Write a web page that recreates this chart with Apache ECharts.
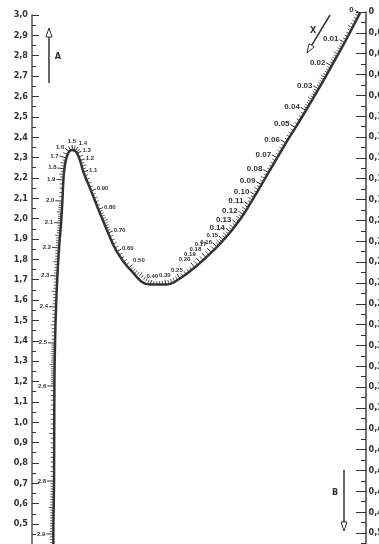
<!DOCTYPE html>
<html><head><meta charset="utf-8">
<script src="https://cdn.jsdelivr.net/npm/echarts@6/dist/echarts.min.js"></script>
<style>html,body{margin:0;padding:0;background:#fff}#c{width:379px;height:544px}</style>
</head><body><div id="c"></div>
<script>
// Left scale A (values 0.5 … 3.0), right scale B (0 … 0.5)
const scaleAMin = 0.5, scaleAMax = 3.0, scaleAStep = 0.1;
const scaleBMin = 0, scaleBMax = 0.5, scaleBStep = 0.02;

// Curved scale X: label, horizontal position (% of span A→B), height read on scale A
const xLabels = ['0','0.01','0.02','0.03','0.04','0.05','0.06','0.07','0.08','0.09','0.10','0.11','0.12','0.13','0.14','0.15','0.16','0.17','0.18','0.19','0.20','0.25','0.30','0.40','0.50','0.60','0.70','0.80','0.90','1.1','1.2','1.3','1.4','1.5','1.6','1.7','1.8','1.9','2.0','2.1','2.2','2.3','2.4','2.5','2.6','2.8','2.9','3.0'];
const xCurveH = [98.2,93.6,89.7,85.8,82.0,78.9,76.0,73.4,70.8,68.7,66.9,65.1,63.3,61.4,59.4,57.3,55.4,53.7,52.1,50.4,48.7,44.3,40.1,35.3,29.0,25.4,22.8,19.9,17.7,15.4,14.4,13.5,12.9,12.1,11.1,10.3,9.7,9.4,9.1,8.7,8.1,7.6,7.2,6.9,6.7,6.6,6.4,6.4];
const xCurveA = [3.010,2.865,2.750,2.637,2.531,2.447,2.371,2.298,2.226,2.167,2.116,2.067,2.020,1.976,1.934,1.895,1.861,1.834,1.809,1.784,1.760,1.706,1.676,1.676,1.757,1.838,1.929,2.045,2.136,2.229,2.285,2.320,2.332,2.337,2.330,2.298,2.244,2.190,2.086,1.978,1.856,1.718,1.566,1.389,1.178,0.711,0.451,0.176];

const N = xLabels.length;
const FONT = '"Liberation Sans Narrow","DejaVu Sans Condensed",sans-serif';
const FONT_X = '"Liberation Sans",Arial,sans-serif';
const INK = '#333';

const chart = echarts.init(document.getElementById('c'), null, {renderer: 'canvas'});

function P(api, k) { return api.coord([xCurveH[k], xCurveA[k]]); }
function dirAt(api, k) {
  const a = P(api, Math.max(0, k - 1)), b = P(api, Math.min(N - 1, k + 1));
  const dx = b[0] - a[0], dy = b[1] - a[1];
  const l = Math.hypot(dx, dy) || 1;
  return [dx / l, dy / l];
}
function nrm(d) { return [-d[1], d[0]]; }

function renderTicks(params, api) {
  const k = params.dataIndex;
  const p = P(api, k);
  const n = nrm(dirAt(api, k));
  const ch = [];
  const L = k <= 20 ? 6 : (k <= 34 ? 5 : 7);
  ch.push({type: 'line', shape: {x1: p[0], y1: p[1], x2: p[0] + n[0] * L, y2: p[1] + n[1] * L},
    style: {stroke: INK, lineWidth: 1}});
  const big = k <= 14;
  const align = n[0] < -0.55 ? 'right' : (n[0] > 0.55 ? 'left' : 'center');
  const valign = n[1] < -0.7 ? 'bottom' : (n[1] > 0.7 ? 'top' : 'middle');
  ch.push({type: 'text', x: p[0] + n[0] * (L + 1), y: p[1] + n[1] * (L + 1),
    style: {text: xLabels[k], fill: INK, font: 'bold ' + (big ? 8 : 6) + 'px ' + FONT_X,
      align: align, verticalAlign: valign}});
  if (k < N - 1) {
    const q = P(api, k + 1);
    const n2 = nrm(dirAt(api, k + 1));
    const len = Math.hypot(q[0] - p[0], q[1] - p[1]);
    const opts = [2, 4, 5, 10, 20];
    let sub = 2;
    opts.forEach(o => { if (Math.abs(len / o - 3.2) < Math.abs(len / sub - 3.2)) sub = o; });
    for (let j = 1; j < sub; j++) {
      const t = j / sub;
      const x = p[0] + (q[0] - p[0]) * t, y = p[1] + (q[1] - p[1]) * t;
      let nx = n[0] * (1 - t) + n2[0] * t, ny = n[1] * (1 - t) + n2[1] * t;
      const nl = Math.hypot(nx, ny) || 1; nx /= nl; ny /= nl;
      const l = (sub % 2 === 0 && j === sub / 2) ? 5 : 3.5;
      ch.push({type: 'line', shape: {x1: x, y1: y, x2: x + nx * l, y2: y + ny * l},
        style: {stroke: INK, lineWidth: 0.8}});
    }
  }
  return {type: 'group', children: ch};
}

const curveData = xLabels.map((_, i) => [xCurveH[i], xCurveA[i]]);

function arrow(x1, y1, x2, y2) {
  const dx = x2 - x1, dy = y2 - y1, l = Math.hypot(dx, dy);
  const ux = dx / l, uy = dy / l;
  const hl = 9, hw = 3;
  const bx = x2 - ux * hl, by = y2 - uy * hl;
  return [
    {type: 'line', shape: {x1: x1, y1: y1, x2: bx, y2: by}, style: {stroke: INK, lineWidth: 1.5}},
    {type: 'polygon', shape: {points: [[x2, y2], [bx - uy * hw, by + ux * hw], [bx + uy * hw, by - ux * hw]]},
      style: {fill: '#fff', stroke: INK, lineWidth: 1}}
  ];
}
const letter = (t, x, y) => ({type: 'text', x: x, y: y,
  style: {text: t, fill: INK, font: 'bold 9px ' + FONT, align: 'center', verticalAlign: 'middle'}});

chart.setOption({
  animation: false,
  backgroundColor: '#fff',
  grid: [
    {left: 32, right: 13, top: 15, bottom: 544 - 15 - 203.6 * scaleAMax, outerBoundsMode: 'none', containLabel: false},
    {left: 32, right: 13, top: 12, bottom: 544 - 12 - 1042 * (scaleBMax + scaleBStep), outerBoundsMode: 'none', containLabel: false}
  ],
  xAxis: [
    {gridIndex: 0, type: 'value', min: 0, max: 100, show: false},
    {gridIndex: 1, type: 'value', min: 0, max: 100, show: false}
  ],
  yAxis: [
    {gridIndex: 0, type: 'value', position: 'left', min: 0, max: scaleAMax, interval: scaleAStep,
      axisLine: {show: true, onZero: false, lineStyle: {color: '#555', width: 1.5}},
      axisTick: {show: true, inside: true, length: 7, lineStyle: {color: INK, width: 1}},
      minorTick: {show: true, splitNumber: 2, length: 4, lineStyle: {color: INK, width: 1}},
      splitLine: {show: false},
      axisLabel: {margin: 4, color: INK, fontSize: 9, fontWeight: 'bold', fontFamily: FONT,
        formatter: v => (v < scaleAMin - 1e-6 ? '' : v.toFixed(1).replace('.', ','))}},
    {gridIndex: 1, type: 'value', position: 'right', inverse: true, min: scaleBMin, max: scaleBMax + scaleBStep,
      interval: scaleBStep,
      axisLine: {show: true, onZero: false, lineStyle: {color: '#444', width: 1.5}},
      axisTick: {show: true, inside: true, length: 10, lineStyle: {color: INK, width: 1}},
      minorTick: {show: true, splitNumber: 2, length: 5, lineStyle: {color: INK, width: 1}},
      splitLine: {show: false},
      axisLabel: {margin: 2.5, color: INK, fontSize: 9, fontWeight: 'bold', fontFamily: FONT,
        formatter: v => (v > scaleBMax + 1e-6 ? '' : (v === 0 ? '0' : v.toFixed(2).replace('.', ',')))}}
  ],
  series: [
    {type: 'line', xAxisIndex: 0, yAxisIndex: 0, data: curveData, smooth: 0.4, symbol: 'none', clip: false,
      lineStyle: {color: INK, width: 2.5}, silent: true},
    {type: 'custom', xAxisIndex: 0, yAxisIndex: 0, data: curveData, renderItem: renderTicks, clip: false, silent: true}
  ],
  graphic: [
    ...arrow(49, 83, 49, 28), letter('A', 58, 57),
    ...arrow(330, 15, 307, 53), letter('X', 313, 31),
    ...arrow(344, 470, 344, 531), letter('B', 335, 493)
  ]
});
</script></body></html>
